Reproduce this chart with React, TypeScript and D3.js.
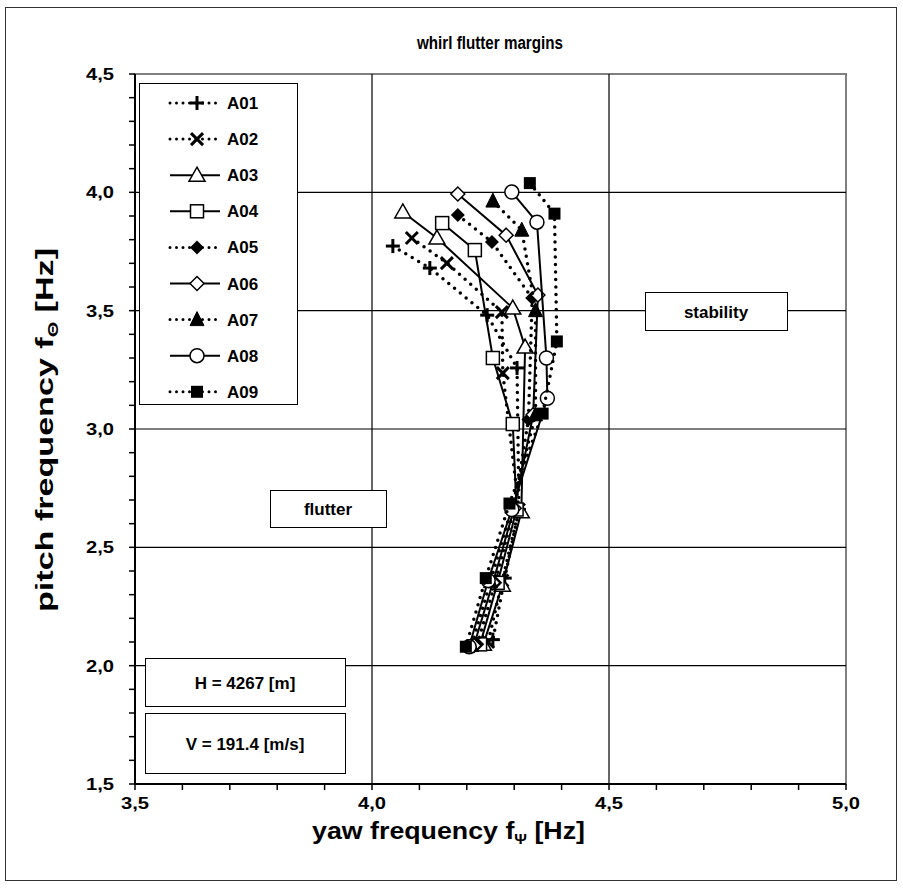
import React from "react";
import * as d3 from "d3";

const seriesNames = ["A01", "A02", "A03", "A04", "A05", "A06", "A07", "A08", "A09"];
const markerKinds = ["plus", "cross", "triangle", "square", "diamondFilled", "diamond", "triangleFilled", "circle", "squareFilled"];
const dottedSeries = [true, true, false, false, true, false, true, false, true];

const yawA01 = [4.044, 4.122, 4.243, 4.306, 4.31, 4.28, 4.255];
const pitchA01 = [3.773, 3.68, 3.481, 3.258, 2.66, 2.37, 2.11];
const yawA02 = [4.084, 4.158, 4.274, 4.276, 4.31, 4.275, 4.245];
const pitchA02 = [3.807, 3.701, 3.494, 3.236, 2.66, 2.36, 2.1];
const yawA03 = [4.065, 4.137, 4.297, 4.323, 4.315, 4.275, 4.235];
const pitchA03 = [3.917, 3.807, 3.511, 3.346, 2.65, 2.34, 2.09];
const yawA04 = [4.148, 4.217, 4.255, 4.297, 4.305, 4.265, 4.228];
const pitchA04 = [3.87, 3.756, 3.3, 3.021, 2.66, 2.35, 2.09];
const yawA05 = [4.181, 4.253, 4.338, 4.33, 4.3, 4.26, 4.222];
const pitchA05 = [3.904, 3.79, 3.553, 3.04, 2.665, 2.35, 2.09];
const yawA06 = [4.181, 4.283, 4.35, 4.34, 4.3, 4.255, 4.215];
const pitchA06 = [3.993, 3.819, 3.566, 3.06, 2.665, 2.35, 2.085];
const yawA07 = [4.255, 4.316, 4.345, 4.345, 4.295, 4.25, 4.21];
const pitchA07 = [3.963, 3.84, 3.5, 3.06, 2.67, 2.355, 2.085];
const yawA08 = [4.295, 4.348, 4.368, 4.37, 4.295, 4.245, 4.205];
const pitchA08 = [4.001, 3.874, 3.3, 3.13, 2.66, 2.36, 2.08];
const yawA09 = [4.333, 4.385, 4.39, 4.36, 4.29, 4.24, 4.198];
const pitchA09 = [4.039, 3.91, 3.37, 3.065, 2.685, 2.37, 2.08];

const yawData = [yawA01, yawA02, yawA03, yawA04, yawA05, yawA06, yawA07, yawA08, yawA09];
const pitchData = [pitchA01, pitchA02, pitchA03, pitchA04, pitchA05, pitchA06, pitchA07, pitchA08, pitchA09];

const xTicks = [3.5, 4.0, 4.5, 5.0];
const yTicks = [1.5, 2.0, 2.5, 3.0, 3.5, 4.0, 4.5];
const fmt = (v: number) => v.toFixed(1).replace(".", ",");

const W = 903, H = 888;
const plotL = 135, plotR = 846, plotT = 74, plotB = 784;
const FONT = "Arial, 'Liberation Sans', Helvetica, sans-serif";

function Marker({ kind, x, y }: { kind: string; x: number; y: number }) {
  const s = 7;
  switch (kind) {
    case "plus":
      return (
        <g stroke="#000" strokeWidth={3}>
          <line x1={x - s} x2={x + s} y1={y} y2={y} />
          <line x1={x} x2={x} y1={y - s} y2={y + s} />
        </g>
      );
    case "cross":
      return (
        <g stroke="#000" strokeWidth={3}>
          <line x1={x - 6} x2={x + 6} y1={y - 6} y2={y + 6} />
          <line x1={x - 6} x2={x + 6} y1={y + 6} y2={y - 6} />
        </g>
      );
    case "triangle":
      return <path d={`M${x},${y - 8}L${x + 8},${y + 6}L${x - 8},${y + 6}Z`} fill="#fff" stroke="#000" strokeWidth={1.5} />;
    case "triangleFilled":
      return <path d={`M${x},${y - 8}L${x + 7},${y + 6}L${x - 7},${y + 6}Z`} fill="#000" stroke="#000" strokeWidth={1} />;
    case "square":
      return <rect x={x - 6.5} y={y - 6.5} width={13} height={13} fill="#fff" stroke="#000" strokeWidth={1.5} />;
    case "squareFilled":
      return <rect x={x - 6} y={y - 6} width={12} height={12} fill="#000" />;
    case "diamond":
      return <path d={`M${x},${y - 7}L${x + 7},${y}L${x},${y + 7}L${x - 7},${y}Z`} fill="#fff" stroke="#000" strokeWidth={1.5} />;
    case "diamondFilled":
      return <path d={`M${x},${y - 7}L${x + 7},${y}L${x},${y + 7}L${x - 7},${y}Z`} fill="#000" />;
    case "circle":
      return <circle cx={x} cy={y} r={7} fill="#fff" stroke="#000" strokeWidth={1.5} />;
  }
  return null;
}

export default function App() {
  const x = d3.scaleLinear().domain([3.5, 5.0]).range([plotL, plotR]);
  const y = d3.scaleLinear().domain([1.5, 4.5]).range([plotB, plotT]);
  const line = d3
    .line<[number, number]>()
    .x((d) => x(d[0]))
    .y((d) => y(d[1]));

  const minorX = d3.range(35, 51).map((v) => v / 10);
  const minorY = d3.range(15, 46).map((v) => v / 10);

  const legendX = 139, legendY = 83, legendW = 158, legendH = 321;

  return (
    <svg width={W} height={H} style={{ position: "absolute", left: 0, top: 0, fontFamily: FONT }}>
      <rect x={0} y={0} width={W} height={H} fill="#fff" />
      <rect x={5.5} y={7.5} width={891} height={873} fill="none" stroke="#333" strokeWidth={1} />
      <text x={490} y={49} textAnchor="middle" fontWeight="bold" fontSize={18} textLength={146} lengthAdjust="spacingAndGlyphs">whirl flutter margins</text>

      {/* plot border */}
      <rect x={plotL} y={plotT} width={plotR - plotL} height={plotB - plotT} fill="none" stroke="#808080" strokeWidth={2} />
      {/* grid */}
      {xTicks.slice(1, -1).map((t) => (
        <line key={"gx" + t} x1={x(t)} x2={x(t)} y1={plotT} y2={plotB} stroke="#000" strokeWidth={1.2} />
      ))}
      {yTicks.slice(1, -1).map((t) => (
        <line key={"gy" + t} x1={plotL} x2={plotR} y1={y(t)} y2={y(t)} stroke="#000" strokeWidth={1.2} />
      ))}

      {/* axes */}
      <line x1={plotL} x2={plotR} y1={plotB} y2={plotB} stroke="#000" strokeWidth={2} />
      <line x1={plotL} x2={plotL} y1={plotT} y2={plotB} stroke="#000" strokeWidth={2} />
      {minorX.map((t) => (
        <line key={"tx" + t} x1={x(t)} x2={x(t)} y1={plotB} y2={plotB + 6} stroke="#000" strokeWidth={1.5} />
      ))}
      {minorY.map((t) => (
        <line key={"ty" + t} x1={plotL - 6} x2={plotL} y1={y(t)} y2={y(t)} stroke="#000" strokeWidth={1.5} />
      ))}
      {xTicks.map((t) => (
        <text key={"lx" + t} x={x(t)} y={809} textAnchor="middle" fontWeight="bold" fontSize={17} textLength={28} lengthAdjust="spacingAndGlyphs">{fmt(t)}</text>
      ))}
      {yTicks.map((t) => (
        <text key={"ly" + t} x={114} y={y(t) + 6} textAnchor="end" fontWeight="bold" fontSize={17} textLength={28} lengthAdjust="spacingAndGlyphs">{fmt(t)}</text>
      ))}

      <text x={312} y={839} fontWeight="bold" fontSize={24} textLength={273} lengthAdjust="spacingAndGlyphs">
        yaw frequency  f<tspan fontSize={14} dy={5}>Ψ</tspan><tspan dy={-5}> [Hz]</tspan>
      </text>
      <text transform={`translate(53,612) rotate(-90)`} fontWeight="bold" fontSize={24} textLength={364} lengthAdjust="spacingAndGlyphs">
        pitch frequency  f<tspan fontSize={14} dy={5}>Θ</tspan><tspan dy={-5}> [Hz]</tspan>
      </text>

      {/* boxes */}
      <rect x={645.5} y={292.5} width={142} height={38} fill="#fff" stroke="#000" strokeWidth={1} />
      <text x={716} y={318} textAnchor="middle" fontWeight="bold" fontSize={17}>stability</text>
      <rect x={270.5} y={490.5} width={116} height={37} fill="#fff" stroke="#000" strokeWidth={1} />
      <text x={328} y={515} textAnchor="middle" fontWeight="bold" fontSize={17}>flutter</text>
      <rect x={145.5} y={658.5} width={200} height={48} fill="#fff" stroke="#000" strokeWidth={1} />
      <text x={245} y={689} textAnchor="middle" fontWeight="bold" fontSize={17}>H = 4267 [m]</text>
      <rect x={145.5} y={713.5} width={200} height={60} fill="#fff" stroke="#000" strokeWidth={1} />
      <text x={245} y={750} textAnchor="middle" fontWeight="bold" fontSize={17}>V = 191.4 [m/s]</text>

      {/* series */}
      {seriesNames.map((name, i) => {
        const pts: [number, number][] = yawData[i].map((v, j) => [v, pitchData[i][j]]);
        return (
          <g key={name}>
            <path
              d={line(pts) || ""}
              fill="none"
              stroke="#000"
              strokeWidth={dottedSeries[i] ? 3.5 : 2}
              strokeDasharray={dottedSeries[i] ? "0 7.5" : undefined}
              strokeLinecap={dottedSeries[i] ? "round" : "butt"}
            />
            {pts.map((p, j) => (
              <Marker key={j} kind={markerKinds[i]} x={x(p[0])} y={y(p[1])} />
            ))}
          </g>
        );
      })}

      {/* legend */}
      <rect x={legendX + 0.5} y={legendY + 0.5} width={legendW} height={legendH} fill="#fff" stroke="#000" strokeWidth={1} />
      {seriesNames.map((name, i) => {
        const ly = 103 + i * 36.1;
        return (
          <g key={"lg" + name}>
            <line
              x1={170}
              x2={220}
              y1={ly}
              y2={ly}
              stroke="#000"
              strokeWidth={dottedSeries[i] ? 3 : 2}
              strokeDasharray={dottedSeries[i] ? "0 6.5" : undefined}
              strokeLinecap={dottedSeries[i] ? "round" : "butt"}
            />
            <Marker kind={markerKinds[i]} x={197} y={ly} />
            <text x={227} y={ly + 6} fontWeight="bold" fontSize={17}>{name}</text>
          </g>
        );
      })}
    </svg>
  );
}
